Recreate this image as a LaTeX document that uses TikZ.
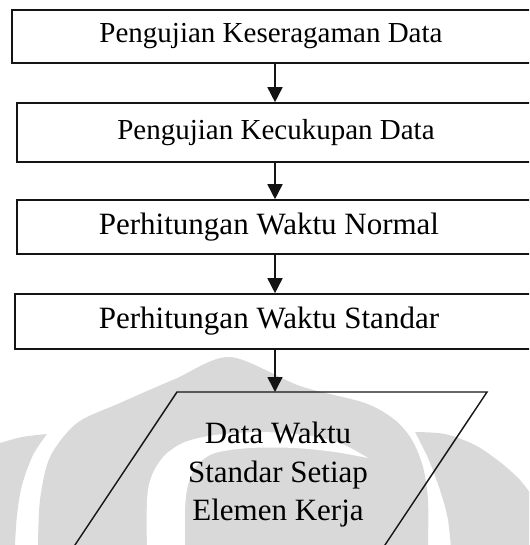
\documentclass[tikz,border=0pt]{standalone}
\usepackage{fontspec}
\setmainfont{Liberation Serif}
\usetikzlibrary{arrows.meta}
\definecolor{wm}{RGB}{217,217,217}
\definecolor{ink}{RGB}{20,20,20}
\begin{document}
\begin{tikzpicture}[x=1pt,y=1pt,
  box/.style={draw=ink, line width=1.6pt, rectangle, inner sep=0pt},
  lblA/.style={font=\fontsize{29}{34}\selectfont, inner sep=0pt},
  lblB/.style={font=\fontsize{31}{38.5}\selectfont, inner sep=0pt},
  arr/.style={draw=ink, line width=1.6pt, -{Triangle[length=15pt,width=15pt]}},
]
\useasboundingbox (0,0) rectangle (529,-545);
\clip (0,0) rectangle (529,-545);

% faint logo in the background
\fill[wm] (38,-560) -- plot[smooth] coordinates {(38,-545) (40,-500) (50,-457) (77,-423) (120,-403) (175,-379) (230,-357) (300,-386) (365,-403) (395,-420) (412,-440) (423,-467) (428,-500) (428,-545)} -- (428,-560) -- cycle;
\fill[white] plot[smooth] coordinates {(147,-560) (147,-500) (152,-475) (165,-455) (185,-442) (215,-435) (260,-432) (305,-435) (340,-443) (368,-458)} -- plot[smooth] coordinates {(368,-458) (335,-452) (295,-448) (250,-448) (215,-453) (197,-465) (188,-485) (185,-510) (185,-560)} -- cycle;
\fill[wm] (0,-443) -- plot[smooth] coordinates {(0,-443) (22,-437) (47,-434)} -- plot[smooth] coordinates {(47,-434) (33,-455) (22,-485) (17,-515) (15,-545)} -- (15,-560) -- (0,-560) -- cycle;
\fill[wm] plot[smooth] coordinates {(415,-432) (445,-434) (475,-445) (500,-462) (520,-480) (535,-500)} -- (535,-560) -- (452,-560) -- plot[smooth] coordinates {(452,-560) (448,-520) (440,-490) (428,-458) (415,-432)} -- cycle;

% process boxes (they run past the right edge)
\node[box, minimum width=526pt, minimum height=53pt] (b1) at (275,-36.5) {};
\node[box, minimum width=516pt, minimum height=59pt] (b2) at (275,-132.5) {};
\node[box, minimum width=516pt, minimum height=54pt] (b3) at (275,-227) {};
\node[box, minimum width=520pt, minimum height=55pt] (b4) at (275,-321.5) {};

\node[lblA] (t1) at (271,-36.5) {Pengujian Keseragaman Data};
\node[lblA] (t2) at (276,-132.5) {Pengujian Kecukupan Data};
\node[lblB] (t3) at (269,-227) {Perhitungan Waktu Normal};
\node[lblB] (t4) at (269,-321.5) {Perhitungan Waktu Standar};

% output parallelogram
\coordinate (pTL) at (177,-392);
\coordinate (pTR) at (487,-392);
\coordinate (pBR) at (380.3,-552);
\coordinate (pBL) at (70.3,-552);
\coordinate (din) at (275,-392);
\draw[ink, line width=1.4pt, line join=miter] (pTL) -- (pTR) -- (pBR) -- (pBL) -- cycle;
\node[lblB, align=center] (data) at (278,-475) {Data Waktu\\Standar Setiap\\Elemen Kerja};

% flow
\draw[arr] (b1) -- (b2);
\draw[arr] (b2) -- (b3);
\draw[arr] (b3) -- (b4);
\draw[arr] (b4.south) -- (din);
\end{tikzpicture}
\end{document}
